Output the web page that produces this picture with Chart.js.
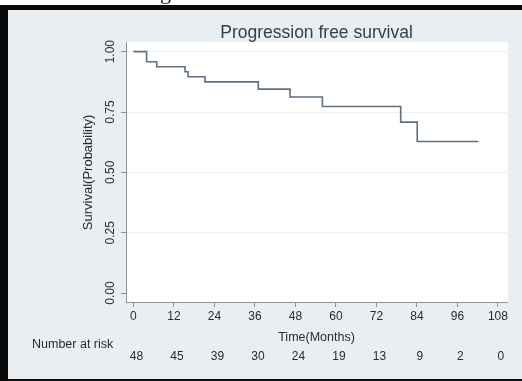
<!DOCTYPE html>
<html>
<head>
<meta charset="utf-8">
<script src="https://cdn.jsdelivr.net/npm/chart.js@4"></script>
<style>
  body { margin: 0; background: #fff; }
  canvas { display: block; }
</style>
</head>
<body>
<canvas id="km-chart" width="522" height="381"></canvas>
<script>
// Kaplan-Meier steps
const months = [0, 3.9, 6.9, 15.3, 16.2, 21.2, 37, 46.4, 56, 79.2, 84.1, 102.2];
const survival = [1, 0.958, 0.9375, 0.917, 0.896, 0.875, 0.845, 0.812, 0.773, 0.708, 0.628, 0.628];

const xTicks = [0, 12, 24, 36, 48, 60, 72, 84, 96, 108];
const yTicks = [0, 0.25, 0.5, 0.75, 1];
const yTickLabels = ['0.00', '0.25', '0.50', '0.75', '1.00'];
const atRisk = [48, 45, 39, 30, 24, 19, 13, 9, 2, 0];

const FONT = 'Arial, "Liberation Sans", sans-serif';
const axisGray = '#8c9399';
const textColor = '#2b2b2b';

// Frame, background and all the text that sits outside the plot
const decor = {
  id: 'decor',
  beforeDraw(chart) {
    const ctx = chart.ctx;
    const area = chart.chartArea;
    ctx.save();
    ctx.fillStyle = '#fff';
    ctx.fillRect(0, 0, chart.width, chart.height);
    ctx.fillStyle = '#111';
    ctx.font = '22px "Liberation Serif", serif';
    ctx.textBaseline = 'alphabetic';
    ctx.fillText('g', 160, -1);
    ctx.fillStyle = '#e8eef2';
    ctx.fillRect(0, 5, chart.width, chart.height - 5);
    ctx.fillStyle = '#fff';
    ctx.fillRect(area.left, area.top, area.right - area.left + 1, area.bottom - area.top);
    ctx.restore();
  },
  afterDraw(chart) {
    const ctx = chart.ctx;
    const area = chart.chartArea;
    const x = chart.scales.x;
    const y = chart.scales.y;
    ctx.save();

    // black frame
    ctx.fillStyle = '#0a0a0a';
    ctx.fillRect(0, 5, chart.width, 5);
    ctx.fillRect(0, 5, 8, chart.height - 5);
    ctx.fillRect(0, chart.height - 2, chart.width, 2);

    // title
    ctx.fillStyle = '#33414e';
    ctx.font = '17.5px ' + FONT;
    ctx.textAlign = 'center';
    ctx.textBaseline = 'middle';
    ctx.fillText('Progression free survival', (area.left + area.right) / 2, 33);

    // y tick labels, rotated
    ctx.fillStyle = textColor;
    ctx.font = '12px ' + FONT;
    yTicks.forEach((v, i) => {
      ctx.save();
      ctx.translate(111, y.getPixelForValue(v));
      ctx.rotate(-Math.PI / 2);
      ctx.fillText(yTickLabels[i], 0, 0);
      ctx.restore();
    });

    // y title
    ctx.save();
    ctx.translate(88, y.getPixelForValue(0.5));
    ctx.rotate(-Math.PI / 2);
    ctx.font = '13px ' + FONT;
    ctx.fillText('Survival(Probability)', 0, 0);
    ctx.restore();

    // x title
    ctx.font = '12.5px ' + FONT;
    ctx.fillText('Time(Months)', (area.left + area.right) / 2, 338);

    // number at risk table
    ctx.textAlign = 'left';
    ctx.fillText('Number at risk', 32, 345);
    ctx.textAlign = 'center';
    ctx.font = '12px ' + FONT;
    xTicks.forEach((t, i) => {
      ctx.fillText(String(atRisk[i]), x.getPixelForValue(t) + 3, 357);
    });

    ctx.restore();
  }
};

new Chart(document.getElementById('km-chart'), {
  type: 'line',
  data: {
    datasets: [{
      data: months.map((m, i) => ({ x: m, y: survival[i] })),
      stepped: 'before',
      borderColor: '#5d6f80',
      borderWidth: 1.6,
      pointRadius: 0,
      fill: false
    }]
  },
  options: {
    responsive: false,
    animation: false,
    devicePixelRatio: 1,
    layout: { padding: { left: 0, top: 42, right: 15, bottom: 54 } },
    plugins: {
      legend: { display: false },
      tooltip: { enabled: false }
    },
    scales: {
      x: {
        type: 'linear',
        min: -2.2,
        max: 110.7,
        afterBuildTicks: (scale) => { scale.ticks = xTicks.map(v => ({ value: v })); },
        afterFit: (scale) => { scale.height = 25; },
        ticks: {
          color: textColor,
          font: { family: FONT, size: 12 },
          padding: 2,
          maxRotation: 0,
          autoSkip: false
        },
        grid: {
          drawOnChartArea: false,
          drawTicks: true,
          tickLength: 5,
          tickColor: axisGray
        },
        border: { color: axisGray, width: 1 }
      },
      y: {
        type: 'linear',
        min: -0.037,
        max: 1.04,
        afterBuildTicks: (scale) => { scale.ticks = yTicks.map(v => ({ value: v })); },
        afterFit: (scale) => { scale.width = 126; },
        ticks: { display: false },
        grid: {
          color: (c) => (c.tick && c.tick.value > 0 ? '#eceef0' : 'rgba(0,0,0,0)'),
          drawTicks: true,
          tickLength: 5,
          tickColor: axisGray
        },
        border: { color: axisGray, width: 1 }
      }
    }
  },
  plugins: [decor]
});
</script>
</body>
</html>
